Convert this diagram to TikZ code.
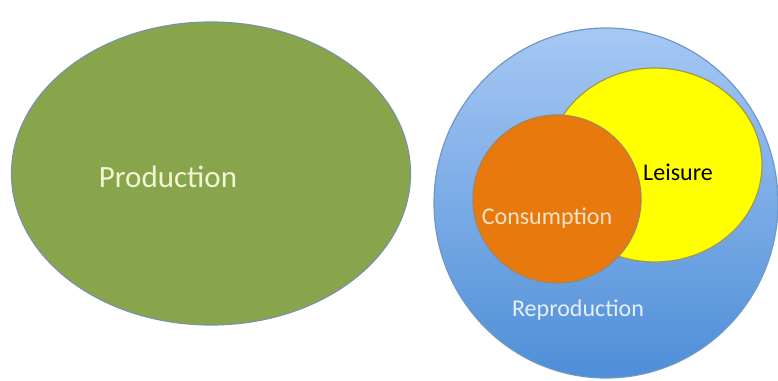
\documentclass[tikz,border=0pt]{standalone}
\usepackage{fontspec}
\setmainfont{Carlito}
\definecolor{prodgreen}{HTML}{89A54B}
\definecolor{prodedge}{HTML}{7B91A6}
\definecolor{reprotop}{HTML}{A6C8F4}
\definecolor{reprobot}{HTML}{4E8ED8}
\definecolor{reproedge}{HTML}{7097C6}
\definecolor{leisyellow}{HTML}{FFFF00}
\definecolor{leisedge}{HTML}{9C9A52}
\definecolor{consorange}{HTML}{E8790C}
\definecolor{consedge}{HTML}{A7835C}
\definecolor{prodtext}{HTML}{F2F4D2}
\definecolor{constext}{HTML}{FBE3CB}
\definecolor{reprotext}{HTML}{E6F0FC}
\tikzset{lbl/.style={font=\fontsize{24}{26}\selectfont,inner sep=0pt}}

\begin{document}
\begin{tikzpicture}[x=1pt,y=1pt]
\useasboundingbox (0,0) rectangle (778,380);
\fill[white] (0,0) rectangle (778,380);
\draw[prodedge,fill=prodgreen,line width=1.2pt] (211,206.5) ellipse (199.5 and 151.5);
\shade[top color=reprotop,bottom color=reprobot,draw=reproedge,line width=1.2pt] (606,177) ellipse (172 and 175);
\draw[leisedge,fill=leisyellow,line width=1.2pt] (655,215) ellipse (107 and 97);
\draw[consedge,fill=consorange,line width=1.2pt] (557,181) circle (84);
\node[lbl,prodtext,font=\fontsize{31}{33}\selectfont] (prod) at (168,203) {Production};
\node[lbl,black] (leis) at (678,208) {Leisure};
\node[lbl,constext] (cons) at (547,162) {Consumption};
\node[lbl,reprotext] (repro) at (578,70) {Reproduction};
\end{tikzpicture}
\end{document}
